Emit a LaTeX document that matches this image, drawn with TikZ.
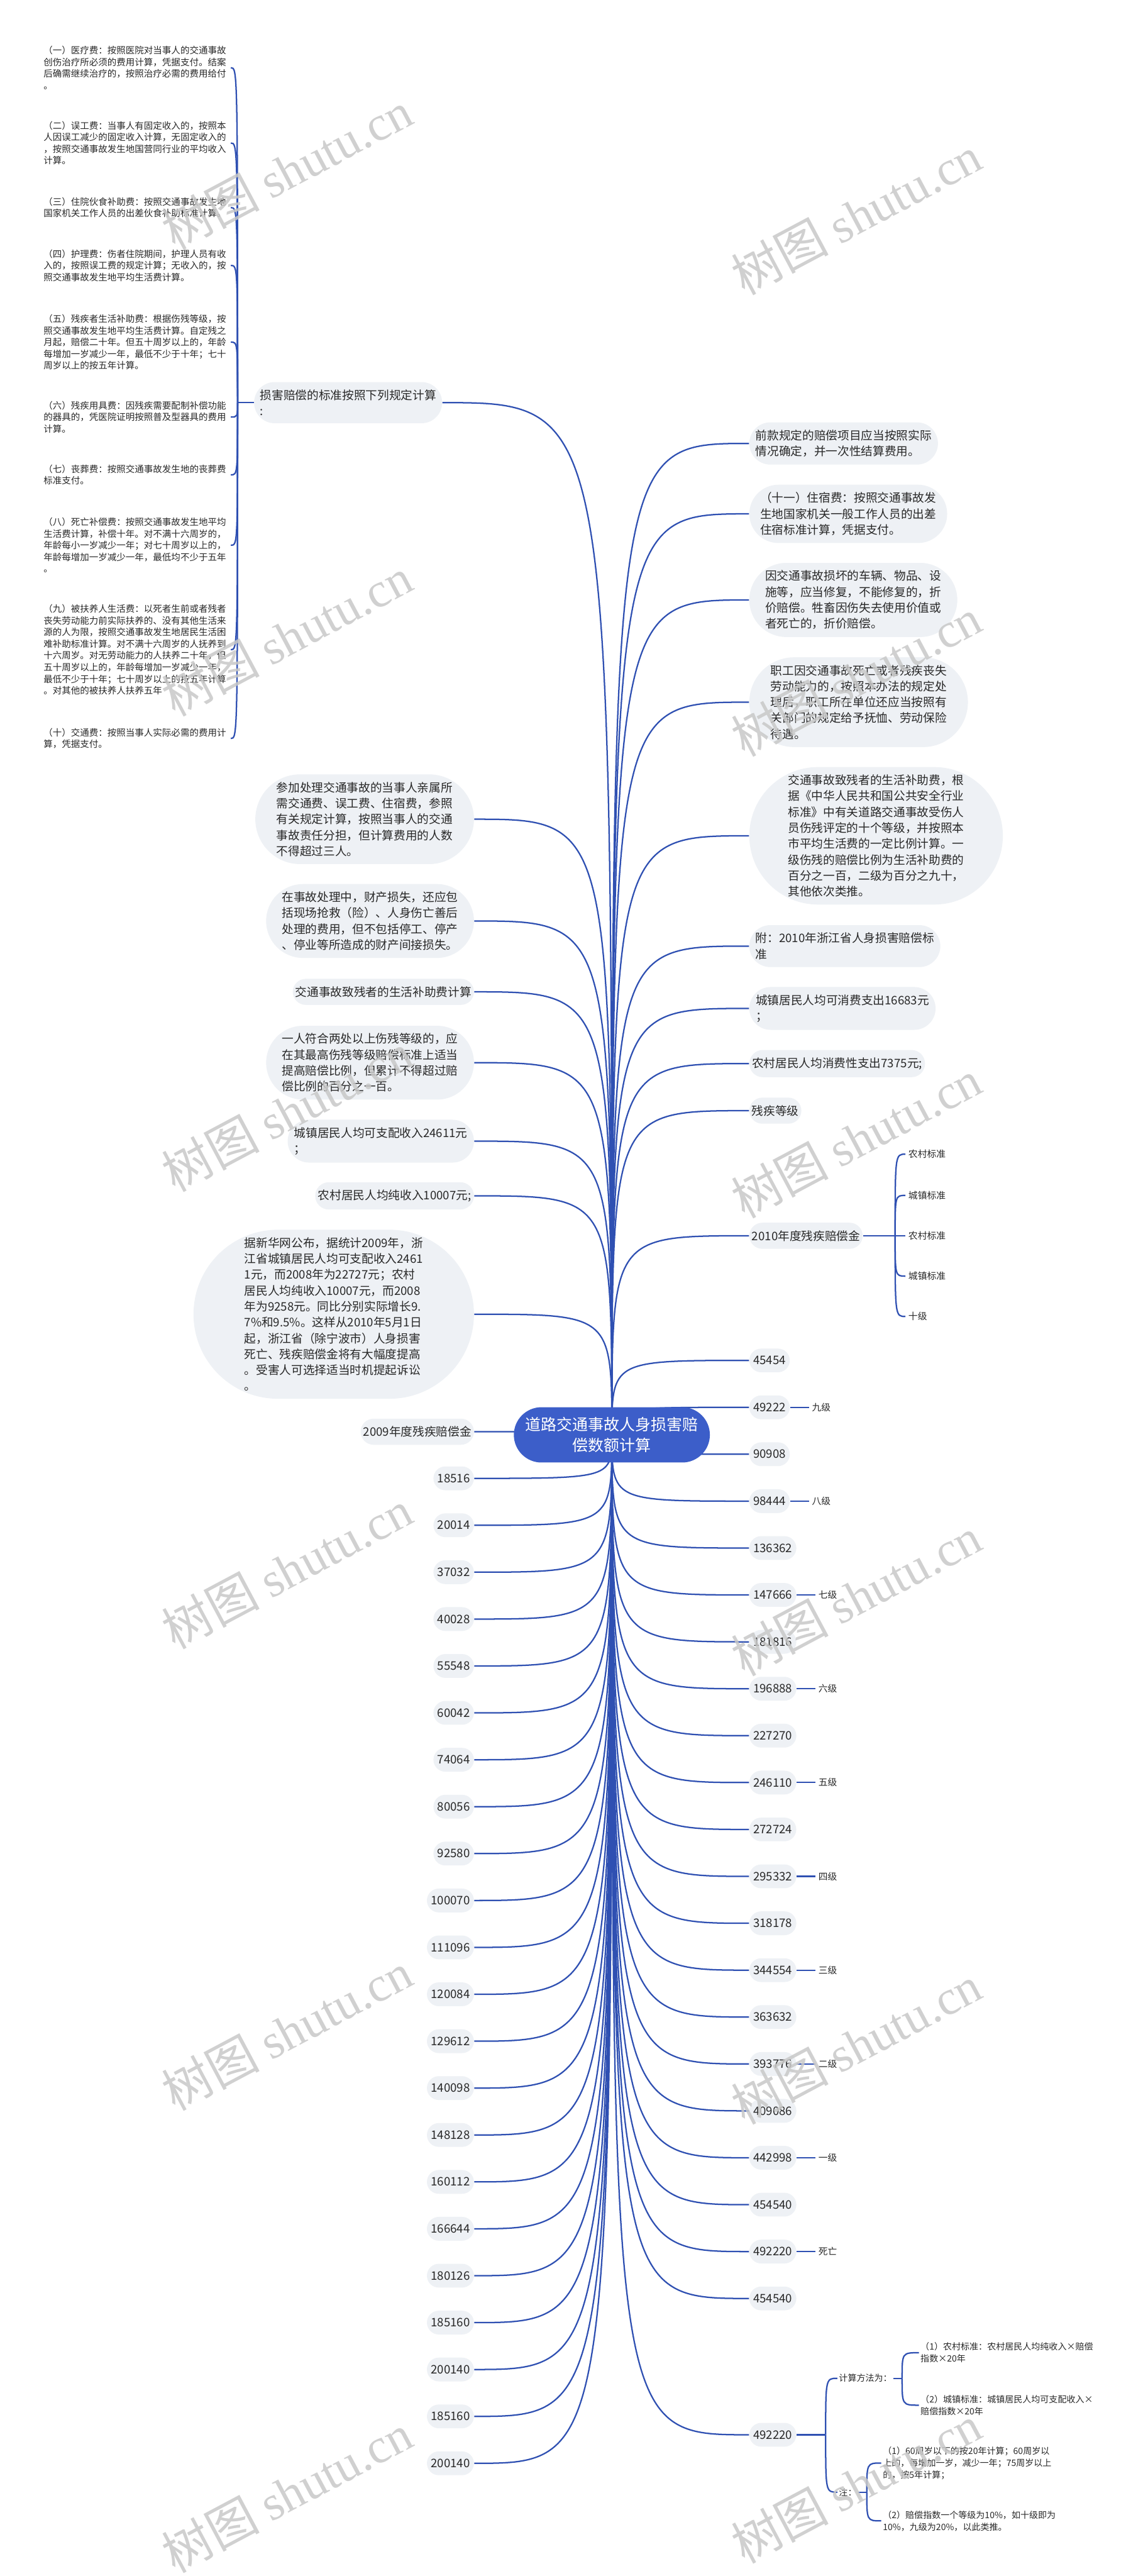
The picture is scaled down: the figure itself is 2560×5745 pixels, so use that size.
\documentclass[tikz,border=0pt]{standalone}
\usepackage{fontspec}
\setmainfont{Noto Sans CJK SC}
\newfontfamily\wmserif{Liberation Serif}
\usetikzlibrary{shapes.misc}
\definecolor{linec}{RGB}{47,80,178}
\definecolor{ctrc}{RGB}{60,94,201}
\definecolor{pillc}{RGB}{238,241,245}
\definecolor{txtc}{RGB}{40,40,40}
\definecolor{wmc}{RGB}{200,200,200}
\pgfdeclarelayer{bg}
\pgfsetlayers{bg,main}
\newcommand{\fsLeaf}{\fontsize{5.79pt}{7.4pt}\selectfont}
\newcommand{\fsNode}{\fontsize{7.45pt}{10.1pt}\selectfont}
\newcommand{\fsCtr}{\fontsize{9.96pt}{13.4pt}\selectfont}
\newcommand{\fsSmall}{\fontsize{5.9pt}{7.5pt}\selectfont}
\newcommand{\fsBR}{\fontsize{5.6pt}{7.57pt}\selectfont}
\newcommand{\fsWm}{\fontsize{31pt}{32pt}\selectfont}
\tikzset{
  conn/.style={draw=linec, line width=0.9pt},
  pill/.style={rounded rectangle, fill=pillc, text=txtc, inner xsep=0.3mm, inner ysep=4.8pt, align=left, font=\fsNode},
  num/.style={pill, inner xsep=0.7mm},
  leaf/.style={text=txtc, align=left, font=\fsLeaf, inner xsep=1mm, inner ysep=0pt, anchor=east},
  lab/.style={text=txtc, font=\fsSmall, inner xsep=0.6mm, inner ysep=0pt, anchor=west},
  brt/.style={text=txtc, align=left, font=\fsBR, inner xsep=0.3mm, inner ysep=0pt, anchor=west},
  ctrnode/.style={rounded rectangle, fill=ctrc, text=white, align=center, font=\fsCtr, inner xsep=1.15mm, inner ysep=6.2pt},
  wm/.style={text=wmc, text opacity=0.85, rotate=28, font=\fsWm, inner sep=0pt}
}
\begin{document}
\begin{tikzpicture}[x=0.1mm, y=-0.1mm]
\begin{pgfonlayer}{bg}
\fill[white] (0,0) rectangle (2560,5745);
\end{pgfonlayer}
\useasboundingbox (0,0) rectangle (2560,5745);

% center
\node[ctrnode] (ctr) at (1365,3200) {道路交通事故人身损害赔\\偿数额计算};

% ---------- right side ----------
\node[pill,anchor=west] (r1) at (1671,989) {前款规定的赔偿项目应当按照实际\\情况确定，并一次性结算费用。};
\node[pill,anchor=west] (r2) at (1671,1146) {（十一）住宿费：按照交通事故发\\生地国家机关一般工作人员的出差\\住宿标准计算，凭据支付。};
\node[pill,anchor=west] (r3) at (1671,1338) {因交通事故损坏的车辆、物品、设\\施等，应当修复，不能修复的，折\\价赔偿。牲畜因伤失去使用价值或\\者死亡的，折价赔偿。};
\node[pill,anchor=west] (r4) at (1671,1566) {职工因交通事故死亡或者残疾丧失\\劳动能力的，按照本办法的规定处\\理后，职工所在单位还应当按照有\\关部门的规定给予抚恤、劳动保险\\待遇。};
\node[pill,anchor=west] (r5) at (1671,1864) {交通事故致残者的生活补助费，根\\据《中华人民共和国公共安全行业\\标准》中有关道路交通事故受伤人\\员伤残评定的十个等级，并按照本\\市平均生活费的一定比例计算。一\\级伤残的赔偿比例为生活补助费的\\百分之一百，二级为百分之九十，\\其他依次类推。};
\node[pill,anchor=west] (r6) at (1671,2110) {附：2010年浙江省人身损害赔偿标\\准};
\node[pill,anchor=west] (r7) at (1671,2249) {城镇居民人均可消费支出16683元\\；};
\node[pill,anchor=west] (r8) at (1671,2372) {农村居民人均消费性支出7375元;};
\node[pill,anchor=west] (r9) at (1671,2477) {残疾等级};
\node[pill,anchor=west] (r10) at (1671,2756) {2010年度残疾赔偿金};

\coordinate (k1) at (1997,2756);
\node[lab] (s1) at (2020,2574) {农村标准};
\node[lab] (s2) at (2020,2666) {城镇标准};
\node[lab] (s3) at (2020,2756) {农村标准};
\node[lab] (s4) at (2020,2846) {城镇标准};
\node[lab] (s5) at (2020,2936) {十级};

\foreach \n [count=\i from 0] in {45454,49222,90908,98444,136362,147666,181816,196888,227270,246110,272724,295332,318178,344554,363632,393776,409086,442998,454540,492220,454540}
  \node[num,anchor=west] (rn\i) at (1671,{3034+104.6*\i}) {\n};

\foreach \i/\t in {1/九级,3/八级,5/七级,7/六级,9/五级,11/四级,13/三级,15/二级,17/一级,19/死亡}
  \node[lab] (rl\i) at ([xshift=4.2mm]rn\i.east) {\t};

% bottom right
\node[num,anchor=west] (rb) at (1671,5430) {492220};
\coordinate (k2) at (1842,5430);
\node[brt] (b1) at (1868,5304) {计算方法为：};
\node[brt] (b2) at (1868,5558) {注：};
\coordinate (k3) at ([xshift=1.9mm]b1.east);
\node[brt] (b11) at (2050,5247) {（1）农村标准：农村居民人均纯收入×赔偿\\指数×20年};
\node[brt] (b12) at (2050,5364) {（2）城镇标准：城镇居民人均可支配收入×\\赔偿指数×20年};
\coordinate (k4) at ([xshift=1.9mm]b2.east);
\node[brt] (b21) at (1966,5493) {（1）60周岁以下的按20年计算；60周岁以\\上的，每增加一岁，减少一年；75周岁以上\\的，按5年计算；};
\node[brt] (b22) at (1966,5622) {（2）赔偿指数一个等级为10\%，如十级即为\\10\%，九级为20\%，以此类推。};

% ---------- left side ----------
\node[pill,anchor=east] (L0) at (987,898) {损害赔偿的标准按照下列规定计算\\:};
\coordinate (k0) at (530,898);
\node[leaf] (lf1) at (515,151) {（一）医疗费：按照医院对当事人的交通事故\\创伤治疗所必须的费用计算，凭据支付。结案\\后确需继续治疗的，按照治疗必需的费用给付\\。};
\node[leaf] (lf2) at (515,319) {（二）误工费：当事人有固定收入的，按照本\\人因误工减少的固定收入计算，无固定收入的\\，按照交通事故发生地国营同行业的平均收入\\计算。};
\node[leaf] (lf3) at (515,463) {（三）住院伙食补助费：按照交通事故发生地\\国家机关工作人员的出差伙食补助标准计算。};
\node[leaf] (lf4) at (515,592) {（四）护理费：伤者住院期间，护理人员有收\\入的，按照误工费的规定计算；无收入的，按\\照交通事故发生地平均生活费计算。};
\node[leaf] (lf5) at (515,763) {（五）残疾者生活补助费：根据伤残等级，按\\照交通事故发生地平均生活费计算。自定残之\\月起，赔偿二十年。但五十周岁以上的，年龄\\每增加一岁减少一年，最低不少于十年；七十\\周岁以上的按五年计算。};
\node[leaf] (lf6) at (515,930) {（六）残疾用具费：因残疾需要配制补偿功能\\的器具的，凭医院证明按照普及型器具的费用\\计算。};
\node[leaf] (lf7) at (515,1059) {（七）丧葬费：按照交通事故发生地的丧葬费\\标准支付。};
\node[leaf] (lf8) at (515,1216) {（八）死亡补偿费：按照交通事故发生地平均\\生活费计算，补偿十年。对不满十六周岁的，\\年龄每小一岁减少一年；对七十周岁以上的，\\年龄每增加一岁减少一年，最低均不少于五年\\。};
\node[leaf] (lf9) at (515,1449) {（九）被扶养人生活费：以死者生前或者残者\\丧失劳动能力前实际扶养的、没有其他生活来\\源的人为限，按照交通事故发生地居民生活困\\难补助标准计算。对不满十六周岁的人抚养到\\十六周岁。对无劳动能力的人扶养二十年，但\\五十周岁以上的，年龄每增加一岁减少一年，\\最低不少于十年；七十周岁以上的按五年计算\\。对其他的被扶养人扶养五年};
\node[leaf] (lf10) at (515,1647) {（十）交通费：按照当事人实际必需的费用计\\算，凭据支付。};

\node[pill,anchor=east] (L1) at (1058,1827) {参加处理交通事故的当事人亲属所\\需交通费、误工费、住宿费，参照\\有关规定计算，按照当事人的交通\\事故责任分担，但计算费用的人数\\不得超过三人。};
\node[pill,anchor=east] (L2) at (1058,2054) {在事故处理中，财产损失，还应包\\括现场抢救（险）、人身伤亡善后\\处理的费用，但不包括停工、停产\\、停业等所造成的财产间接损失。};
\node[pill,anchor=east] (L3) at (1058,2212) {交通事故致残者的生活补助费计算};
\node[pill,anchor=east] (L4) at (1058,2370) {一人符合两处以上伤残等级的，应\\在其最高伤残等级赔偿标准上适当\\提高赔偿比例，但累计不得超过赔\\偿比例的百分之一百。};
\node[pill,anchor=east] (L5) at (1058,2545) {城镇居民人均可支配收入24611元\\；};
\node[pill,anchor=east] (L6) at (1058,2667) {农村居民人均纯收入10007元;};
\node[pill,anchor=east] (L7) at (1058,2931) {据新华网公布，据统计2009年，浙\\江省城镇居民人均可支配收入2461\\1元，而2008年为22727元；农村\\居民人均纯收入10007元，而2008\\年为9258元。同比分别实际增长9.\\7\%和9.5\%。这样从2010年5月1日\\起，浙江省（除宁波市）人身损害\\死亡、残疾赔偿金将有大幅度提高\\。受害人可选择适当时机提起诉讼\\。};
\node[pill,anchor=east] (L8) at (1058,3193) {2009年度残疾赔偿金};

\foreach \n [count=\j from 0] in {18516,20014,37032,40028,55548,60042,74064,80056,92580,100070,111096,120084,129612,140098,148128,160112,166644,180126,185160,200140,185160,200140}
  \node[num,anchor=east] (ln\j) at (1058,{3297+104.6*\j}) {\n};

% ---------- connectors ----------
\begin{pgfonlayer}{bg}
\foreach \n in {r1,r2,r3,r4,r5,r6,r7,r8,r9,r10,rb}
  \draw[conn] (ctr.center) .. controls (ctr.center |- \n.west) .. (\n.west);
\foreach \i in {0,...,20}
  \draw[conn] (ctr.center) .. controls (ctr.center |- rn\i.west) .. (rn\i.west);
\foreach \n in {L0,L1,L2,L3,L4,L5,L6,L7,L8}
  \draw[conn] (ctr.center) .. controls (ctr.center |- \n.east) .. (\n.east);
\foreach \j in {0,...,21}
  \draw[conn] (ctr.center) .. controls (ctr.center |- ln\j.east) .. (ln\j.east);
% brackets
\draw[conn] (L0.west) -- (k0);
\foreach \i in {1,...,10}
  \draw[conn] (k0) .. controls (k0 |- lf\i.east) .. (lf\i.east);
\draw[conn] (r10.east) -- (k1);
\foreach \i in {1,...,5}
  \draw[conn] (k1) .. controls (k1 |- s\i.west) .. (s\i.west);
\foreach \i in {1,3,5,7,9,11,13,15,17,19}
  \draw[conn] (rn\i.east) -- (rl\i.west);
\draw[conn] (rb.east) -- (k2);
\foreach \n in {b1,b2}
  \draw[conn] (k2) .. controls (k2 |- \n.west) .. (\n.west);
\draw[conn] (b1.east) -- (k3);
\foreach \n in {b11,b12}
  \draw[conn] (k3) .. controls (k3 |- \n.west) .. (\n.west);
\draw[conn] (b2.east) -- (k4);
\foreach \n in {b21,b22}
  \draw[conn] (k4) .. controls (k4 |- \n.west) .. (\n.west);
\end{pgfonlayer}

% ---------- watermarks ----------
\foreach \x/\y [count=\w] in {640/380,640/1420,640/2480,640/3500,640/4530,640/5560,1910/480,1910/1510,1910/2540,1910/3560,1910/4560,1910/5540}
  \node[wm] (wm\w) at (\x,\y) {树图 {\wmserif shutu.cn}};
\end{tikzpicture}
\end{document}
